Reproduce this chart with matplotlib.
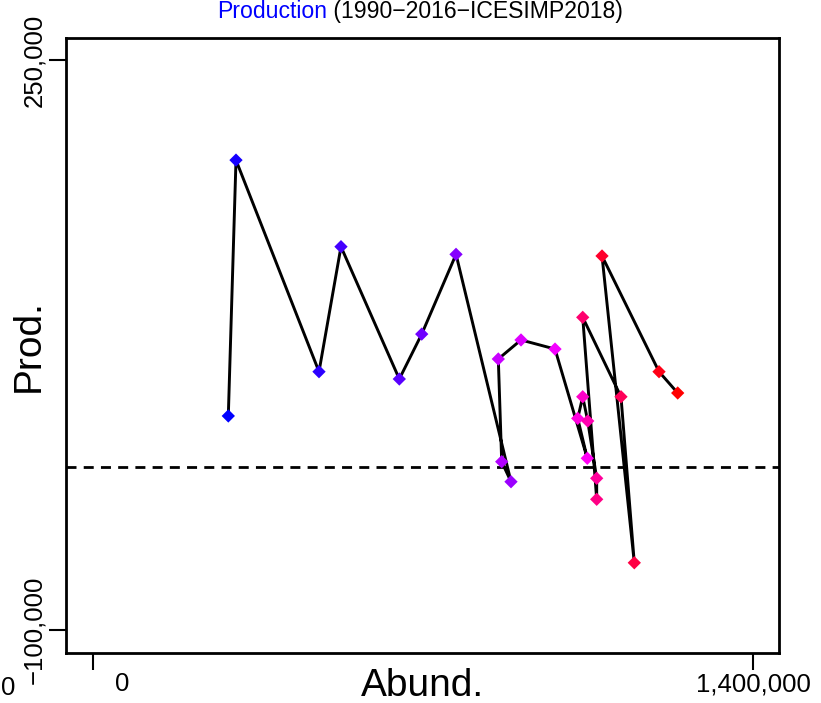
import colorsys
import matplotlib
matplotlib.use("Agg")
import matplotlib.pyplot as plt
import matplotlib.transforms as mtransforms

plt.rcParams['font.family'] = ['Liberation Sans', 'DejaVu Sans']

# abundance vs production, one point per year
abund = [287400, 303700, 479600, 526200, 649800, 697300, 770000,
         886500, 866800, 859600, 907700, 979800,
         1048200, 1027900, 1038500, 1049100, 1068100, 1068100,
         1038500, 1119600, 1147800, 1079400, 1200200, 1239800]
prod = [31500, 188700, 58700, 135500, 54200, 81800, 130800,
        -8900, 3400, 66500, 78200, 72600,
        5500, 30000, 43300, 28400, -6800, -19700,
        92100, 43300, -58700, 129800, 58700, 45600]

yticks = [250000, -100000]
ytick_labels = ["250,000", "\u2212100,000"]
xticks = [0, 1400000]
xtick_labels = ["0", "1,400,000"]

n = len(abund)
cols = [colorsys.hsv_to_rgb((2 / 3 + (1 / 3) * i / (n - 1)) % 1.0, 1, 1) for i in range(n)]

W, H = 821, 703
fig = plt.figure(figsize=(W / 100, H / 100), dpi=100)
ax = fig.add_axes([65.7 / W, 1 - 652.7 / H, (779.3 - 65.7) / W, (652.7 - 37.7) / H])

ax.plot(abund, prod, color='black', lw=2.1, zorder=2)
ax.scatter(abund, prod, c=cols, marker='D', s=46, linewidths=0, zorder=3)
ax.axhline(0, color='black', lw=2, ls=(0, (3.6, 2.6)), zorder=1)

ax.set_xlim(-57200, 1455100)
ax.set_ylim(-113950, 263900)

for sp in ax.spines.values():
    sp.set_linewidth(2)

ax.set_yticks(yticks)
ax.set_yticklabels(ytick_labels, fontsize=18.5, rotation=90, va='center')
ax.set_xticks(xticks)
ax.set_xticklabels(xtick_labels, fontsize=18.5)
ax.tick_params(length=12, width=1.5, pad=2)

# the "0" label sits off to the right of its tick in the original
lab0 = ax.get_xticklabels()[0]
lab0.set_transform(lab0.get_transform() +
                   mtransforms.ScaledTranslation(29 / 100, 0, fig.dpi_scale_trans))
fig.text(8 / W, 1 - 695 / H, "0", fontsize=18.5, ha='center', va='baseline')

ax.set_xlabel("Abund.", fontsize=28, va='baseline')
ax.xaxis.set_label_coords(0.5, (652.7 - 696) / (652.7 - 37.7))
ax.set_ylabel("Prod.", fontsize=28, va='center')
ax.yaxis.set_label_coords((29 - 65.7) / (779.3 - 65.7), 0.5)

t1 = fig.text(217 / W, 1 - 18.3 / H, "Production", color='#0000ff',
              fontsize=16.6, ha='left', va='baseline')
ax.annotate(" (1990\u22122016\u2212ICESIMP2018)", xy=(1, 0), xycoords=t1,
            fontsize=16.6, ha='left', va='bottom', color='black',
            annotation_clip=False)

fig.savefig("out.png", dpi=100)
